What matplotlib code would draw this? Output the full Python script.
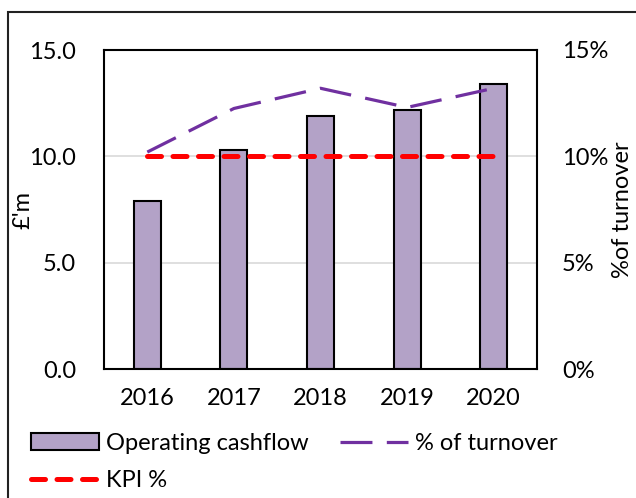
import numpy as np
import matplotlib.pyplot as plt
from matplotlib.patches import Rectangle

years = ['2016', '2017', '2018', '2019', '2020']
cashflow = [7.9, 10.3, 11.9, 12.2, 13.4]
pct_turnover = [10.2, 12.25, 13.2, 12.3, 13.2]
kpi_pct = [10, 10, 10, 10, 10]

plt.rcParams['font.family'] = ['Lato', 'DejaVu Sans']
fs = 17

fig = plt.figure(figsize=(6.36, 4.98), dpi=100)
ax1 = fig.add_axes([104 / 636, 1 - 369 / 498, 433 / 636, 319 / 498])

# outer frame, cut off at right and bottom like the source
fig.patches.append(Rectangle((8 / 636, -0.1), 1.2, 1 - 12 / 498 + 0.1,
                             transform=fig.transFigure, fill=False,
                             edgecolor='#222222', linewidth=1.5))

x = np.arange(len(years))
bars = ax1.bar(x, cashflow, width=0.31, color='#B3A2C7', edgecolor='black',
               linewidth=1.5, label='Operating cashflow', zorder=2)
ax1.set_ylim(0, 15)
ax1.set_xlim(-0.5, len(years) - 0.5)
ax1.set_yticks([0, 5, 10, 15])
ax1.set_yticklabels(['0.0', '5.0', '10.0', '15.0'])
ax1.set_xticks(x)
ax1.set_xticklabels(years)
ax1.tick_params(axis='x', length=0, labelsize=fs, pad=14)
ax1.tick_params(axis='y', length=0, labelsize=fs, pad=20)
ax1.grid(axis='y', color='#d9d9d9', linewidth=1.2, zorder=0)
ax1.set_axisbelow(True)
ax1.set_ylabel("£'m", fontsize=fs)
ax1.yaxis.set_label_coords(-(104 - 33) / 433, 0.5)
for s in ax1.spines.values():
    s.set_linewidth(1.5)

ax2 = ax1.twinx()
ax2.set_ylim(0, 15)
ax2.set_yticks([0, 5, 10, 15])
ax2.set_yticklabels(['0%', '5%', '10%', '15%'])
ax2.tick_params(axis='y', length=0, labelsize=fs, pad=18)
ax2.set_ylabel('%of turnover', fontsize=fs)
ax2.yaxis.set_label_coords(1 + (612 - 537) / 433, 0.5)
turn, = ax2.plot(x, pct_turnover, color='#7030A0', linewidth=2.3,
                 dashes=(10, 4.5), label='% of turnover', zorder=3)
kpi, = ax2.plot(x, kpi_pct, color='#FF0000', linewidth=3.6,
                dashes=(2.8, 2.3), dash_capstyle='round',
                label='KPI %', zorder=3)
for s in ax2.spines.values():
    s.set_visible(False)

fig.legend(handles=[bars, kpi, turn], labels=['Operating cashflow', 'KPI %', '% of turnover'],
           ncol=2, loc='upper left', bbox_to_anchor=(19 / 636, 1 - 421 / 498),
           frameon=False, fontsize=fs, handlelength=2.9, handletextpad=0.3,
           columnspacing=1.3, labelspacing=0.7, borderpad=0)

plt.savefig('out.png', dpi=100)
